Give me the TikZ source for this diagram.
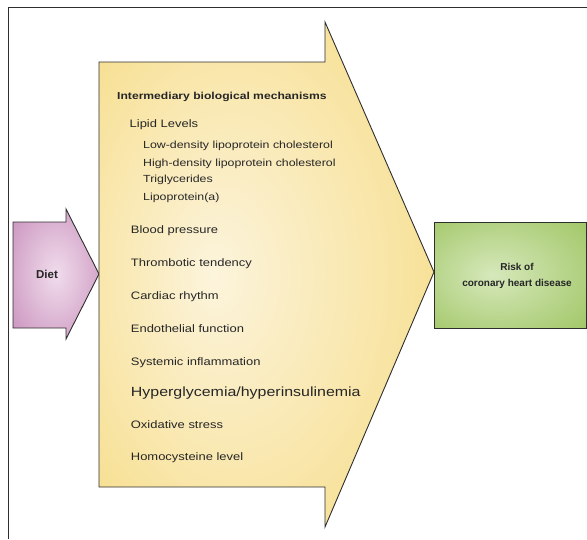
\documentclass[tikz,border=0pt]{standalone}
\usepackage{fontspec}
\setmainfont{Liberation Sans}
\newfontfamily\widefont[FakeStretch=1.2]{Liberation Sans}

\definecolor{dietdark}{HTML}{C990BC}
\definecolor{dietlight}{HTML}{F0DCEC}
\definecolor{mechdark}{HTML}{F6DB82}
\definecolor{mechlight}{HTML}{FCF4DC}
\definecolor{riskdark}{HTML}{A3C86A}
\definecolor{risklight}{HTML}{D6E8BB}
\definecolor{edgegray}{HTML}{2E2E2E}

\pgfdeclareradialshading{dietglow}{\pgfpoint{0bp}{0bp}}{color(0bp)=(dietlight); color(36bp)=(dietdark); color(50bp)=(dietdark)}
\pgfdeclareradialshading{mechglow}{\pgfpoint{-8bp}{0bp}}{color(0bp)=(mechlight); color(38bp)=(mechdark); color(50bp)=(mechdark)}
\pgfdeclareradialshading{riskglow}{\pgfpoint{-6bp}{0bp}}{color(0bp)=(risklight); color(36bp)=(riskdark); color(50bp)=(riskdark)}

\tikzset{
  shapeline/.style={draw=edgegray, line width=0.9pt, line join=miter},
  itemtext/.style={anchor=base west, inner sep=0pt, text=black!85,
    font=\widefont\fontsize{10.8}{13}\selectfont},
  subtext/.style={itemtext, font=\widefont\fontsize{10.3}{12}\selectfont},
  bigtext/.style={itemtext, font=\widefont\fontsize{13.3}{16}\selectfont},
  headtext/.style={itemtext, font=\widefont\bfseries\fontsize{10.1}{12}\selectfont},
}

\begin{document}
\begin{tikzpicture}[x=1pt,y=-1pt]
\useasboundingbox (0,0) rectangle (587,539);

% frame
\draw[edgegray, line width=0.9pt] (8,539) -- (8,7.5) -- (587,7.5);

% Diet
\path[shapeline, shading=dietglow] (13,222) -- (66,222) -- (66,209) -- (99,274)
  -- (66,339) -- (66,328) -- (13,328) -- cycle;
\node[font=\bfseries\fontsize{11.5}{13}\selectfont, text=black!85] (diet) at (47,274) {Diet};

% Intermediary mechanisms
\path[shapeline, shading=mechglow] (99,62) -- (325,62) -- (325,22) -- (434,272)
  -- (325,527) -- (325,487) -- (99,487) -- cycle;

\node[headtext] (title) at (117,99) {Intermediary biological mechanisms};
\node[itemtext] (lipid) at (129.5,127.7) {Lipid Levels};
\node[subtext] (ldl) at (143,148.3) {Low-density lipoprotein cholesterol};
\node[subtext] (hdl) at (143,166) {High-density lipoprotein cholesterol};
\node[subtext] (trig) at (143,182.3) {Triglycerides};
\node[subtext] (lpa) at (143,200) {Lipoprotein(a)};

\node[itemtext] (bp) at (130.7,233.3) {Blood pressure};
\node[itemtext] (thromb) at (130.7,266.7) {Thrombotic tendency};
\node[itemtext] (rhythm) at (130.7,299) {Cardiac rhythm};
\node[itemtext] (endo) at (130.7,332.7) {Endothelial function};
\node[itemtext] (inflam) at (130.7,365.3) {Systemic inflammation};
\node[bigtext] (hyper) at (130.7,396) {Hyperglycemia/hyperinsulinemia};
\node[itemtext] (oxid) at (130.7,428.3) {Oxidative stress};
\node[itemtext] (homocys) at (130.7,460.7) {Homocysteine level};

% Risk
\path[shapeline, shading=riskglow] (434,222) rectangle (586,328);
\node[align=center, font=\bfseries\fontsize{10}{15.7}\selectfont, text=black!85] (risk) at (517,276)
  {Risk of\\coronary heart disease};

\end{tikzpicture}
\end{document}
